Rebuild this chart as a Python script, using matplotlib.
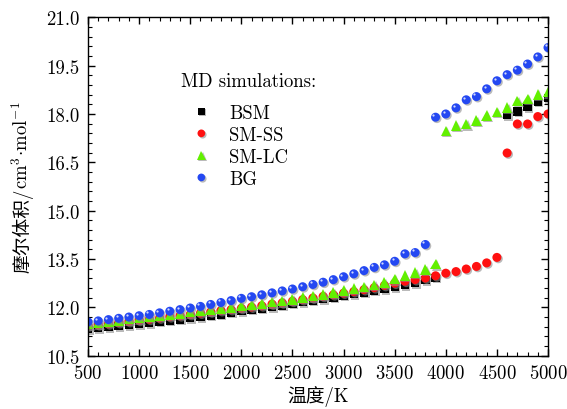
import numpy as np
import matplotlib
matplotlib.use("Agg")
import matplotlib.pyplot as plt
import matplotlib.patheffects as pe
from matplotlib.ticker import MultipleLocator

plt.rcParams['font.family'] = ['cmr10', 'Noto Sans CJK SC', 'DejaVu Sans']
plt.rcParams['mathtext.fontset'] = 'cm'
plt.rcParams['axes.formatter.use_mathtext'] = True

# temperatures (K)
T_low_bsm = list(range(500, 4000, 100))      # 500..3900
T_high_bsm = list(range(4600, 5100, 100))    # 4600..5000
T_low_ss = list(range(500, 4600, 100))       # 500..4500
T_high_ss = list(range(4600, 5100, 100))
T_low_lc = list(range(500, 4000, 100))       # 500..3900
T_high_lc = list(range(4000, 5100, 100))     # 4000..5000
T_low_bg = list(range(500, 3900, 100))       # 500..3800
T_high_bg = list(range(3900, 5100, 100))     # 3900..5000

# molar volume (cm^3/mol)
V_low_bsm = [11.33, 11.36, 11.39, 11.42, 11.45, 11.48, 11.51, 11.55, 11.58, 11.62,
             11.66, 11.70, 11.74, 11.78, 11.83, 11.88, 11.92, 11.96, 12.01, 12.06,
             12.11, 12.16, 12.21, 12.26, 12.31, 12.36, 12.41, 12.46, 12.52, 12.57,
             12.63, 12.69, 12.75, 12.84, 12.92]
V_high_bsm = [17.96, 18.08, 18.21, 18.38, 18.49]

V_low_ss = [11.43, 11.46, 11.49, 11.53, 11.56, 11.60, 11.63, 11.67, 11.71, 11.74,
            11.78, 11.82, 11.86, 11.90, 11.93, 11.97, 12.01, 12.05, 12.10, 12.14,
            12.19, 12.24, 12.29, 12.34, 12.39, 12.44, 12.49, 12.55, 12.61, 12.68,
            12.75, 12.81, 12.86, 12.91, 12.98, 13.06, 13.11, 13.19, 13.27, 13.38,
            13.55]
V_high_ss = [16.79, 17.69, 17.69, 17.92, 18.00]

V_low_lc = [11.48, 11.51, 11.55, 11.59, 11.63, 11.67, 11.71, 11.74, 11.78, 11.81,
            11.85, 11.89, 11.92, 11.96, 12.00, 12.04, 12.08, 12.12, 12.16, 12.20,
            12.25, 12.30, 12.35, 12.40, 12.46, 12.52, 12.58, 12.64, 12.70, 12.77,
            12.88, 12.99, 13.08, 13.17, 13.34]
V_high_lc = [17.48, 17.64, 17.68, 17.80, 17.95, 18.07, 18.20, 18.41, 18.47, 18.61, 18.68]

V_low_bg = [11.55, 11.58, 11.62, 11.66, 11.70, 11.74, 11.78, 11.83, 11.88, 11.93,
            11.98, 12.03, 12.09, 12.15, 12.21, 12.28, 12.33, 12.39, 12.45, 12.51,
            12.57, 12.64, 12.71, 12.78, 12.86, 12.95, 13.04, 13.14, 13.24, 13.32,
            13.43, 13.66, 13.70, 13.95]
V_high_bg = [17.90, 18.00, 18.19, 18.44, 18.54, 18.78, 19.03, 19.22, 19.36, 19.55, 19.77, 20.06]

fig = plt.figure(figsize=(5.67, 4.10), dpi=100)
ax = fig.add_axes([0.1552, 0.130, 0.8113, 0.8254])

shadow = [pe.SimplePatchShadow(offset=(1, -1), shadow_rgbFace='0.55', alpha=0.6), pe.Normal()]

series = [
    ('BSM', T_low_bsm, V_low_bsm, T_high_bsm, V_high_bsm, 's', 'black', 6.0),
    ('SM-SS', T_low_ss, V_low_ss, T_high_ss, V_high_ss, 'o', '#ff1010', 6.5),
    ('SM-LC', T_low_lc, V_low_lc, T_high_lc, V_high_lc, '^', '#62f000', 7.5),
    ('BG', T_low_bg, V_low_bg, T_high_bg, V_high_bg, 'o', '#2448f2', 6.5),
]

handles = []
for name, t1, v1, t2, v2, mk, col, ms in series:
    h, = ax.plot(t1 + t2, v1 + v2, linestyle='none', marker=mk, color=col,
                 markersize=ms, markeredgewidth=0, label=name, path_effects=shadow)
    handles.append(h)

# highlights on the blue balls
ax.plot(T_low_bg + T_high_bg, V_low_bg + V_high_bg, linestyle='none', marker='o',
        color='white', markersize=1.6, markeredgewidth=0, alpha=0.8,
        transform=ax.transData + matplotlib.transforms.ScaledTranslation(-1.5 / 72, 1.5 / 72, fig.dpi_scale_trans))

ax.set_xlim(500, 5000)
ax.set_ylim(10.5, 21.0)
ax.xaxis.set_major_locator(MultipleLocator(500))
ax.xaxis.set_minor_locator(MultipleLocator(100))
ax.yaxis.set_major_locator(MultipleLocator(1.5))
ax.yaxis.set_minor_locator(MultipleLocator(0.3))
ax.yaxis.set_major_formatter(matplotlib.ticker.FormatStrFormatter('%.1f'))
ax.tick_params(which='both', direction='in', top=True, right=True, labelsize=13.5)
ax.tick_params(which='major', length=5, width=1, pad=6)
ax.tick_params(which='minor', length=3, width=0.8)
for s in ax.spines.values():
    s.set_linewidth(1.0)

ax.set_xlabel('温度/K', fontsize=13.5, labelpad=2)

# y label: Chinese part + mathtext unit part, stacked along the rotated baseline
xb = -0.13
lab1 = ax.text(xb, 0.5, '摩尔体积/', rotation=90, rotation_mode='anchor',
               ha='left', va='baseline', fontsize=13.5, transform=ax.transAxes)
lab2 = ax.text(xb, 0.5, r'cm$^{3}\!\cdot\!$mol$^{-1}$', rotation=90, rotation_mode='anchor',
               ha='left', va='baseline', fontsize=13.5, transform=ax.transAxes)
fig.canvas.draw()
r = fig.canvas.get_renderer()
axh = ax.bbox.height
h1 = lab1.get_window_extent(r).height / axh
h2 = lab2.get_window_extent(r).height / axh
y0 = 0.5 - (h1 + h2) / 2
lab1.set_position((xb, y0))
lab2.set_position((xb, y0 + h1))

ax.text(0.202, 0.838, 'MD simulations:', transform=ax.transAxes, fontsize=13.5,
        ha='left', va='top')
ax.legend(handles=handles, loc='upper left', bbox_to_anchor=(0.226, 0.744),
          frameon=False, fontsize=13.5, markerscale=0.85, handlelength=1.0,
          handletextpad=1.0, labelspacing=0.22, borderpad=0, borderaxespad=0)

fig.savefig('out.png', dpi=100)
